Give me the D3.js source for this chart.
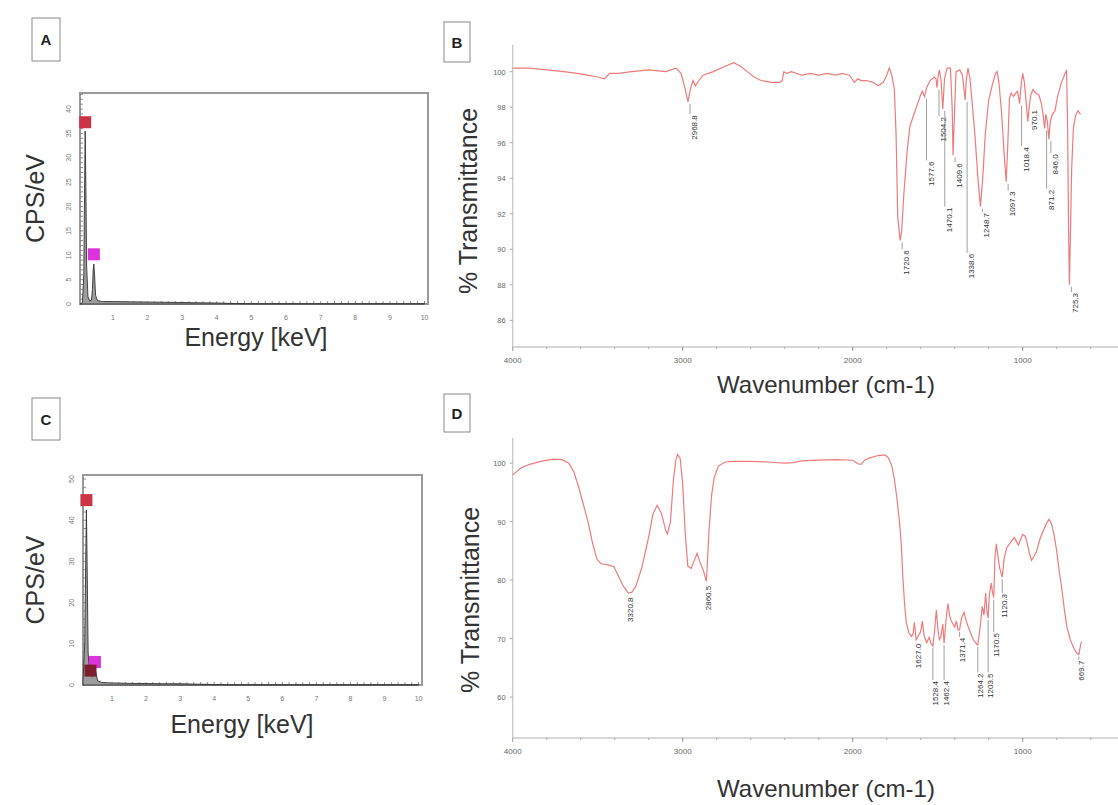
<!DOCTYPE html>
<html>
<head>
<meta charset="utf-8">
<script src="https://cdn.jsdelivr.net/npm/d3@7/dist/d3.min.js"></script>
<style>
  body { margin: 0; background: #fff; }
  svg { display: block; font-family: "Liberation Sans", Arial, sans-serif; }
</style>
</head>
<body>
<script>
// ---- EDS spectrum A ----
const edsA_keV = [0.05, 0.12, 0.16, 0.18, 0.2, 0.22, 0.24, 0.28, 0.33, 0.38, 0.41, 0.43, 0.45, 0.47, 0.5, 0.55, 0.7, 1.0, 1.5, 2.0, 2.5, 3.0, 3.5, 4.0, 4.5, 5, 6, 7, 8, 9, 10];
const edsA_cps = [0, 0.3, 6, 22, 35.5, 24, 8, 1.5, 0.6, 0.8, 3.0, 7.0, 8.2, 6.0, 1.8, 0.7, 0.5, 0.5, 0.45, 0.4, 0.35, 0.3, 0.25, 0.2, 0.1, 0.05, 0.05, 0.05, 0.05, 0.05, 0.05];
const edsA_markKeV = [0.2, 0.45];
const edsA_markCps = [37.3, 10.2];
const edsA_markCol = ["#cc3344", "#dd33dd"];
const edsA_yTicks = [0, 5, 10, 15, 20, 25, 30, 35, 40];

// ---- EDS spectrum C ----
const edsC_keV = [0.15, 0.2, 0.23, 0.25, 0.27, 0.3, 0.34, 0.36, 0.38, 0.42, 0.47, 0.5, 0.53, 0.58, 0.7, 1, 1.5, 2, 2.5, 3, 3.5, 3.8, 4.5, 6, 8, 10];
const edsC_cps = [1, 10, 30, 42.5, 30, 8, 2.5, 2.8, 2.3, 2.0, 3.2, 3.8, 3.0, 1.0, 0.6, 0.5, 0.4, 0.35, 0.3, 0.3, 0.2, 0.15, 0.05, 0.05, 0.05, 0.05];
const edsC_markKeV = [0.25, 0.5, 0.37];
const edsC_markCps = [44.9, 5.6, 3.5];
const edsC_markCol = ["#cc3344", "#dd33dd", "#7a1f2b"];
const edsC_yTicks = [0, 10, 20, 30, 40, 50];

const edsXTicks = [1, 2, 3, 4, 5, 6, 7, 8, 9, 10];

// ---- FTIR spectrum B ----
const irB_wn = [4000, 3900, 3800, 3700, 3620, 3560, 3500, 3460, 3430, 3380, 3300, 3200, 3100, 3040, 3010, 2990, 2968.8, 2955, 2940, 2925, 2905, 2880, 2820, 2750, 2700, 2660, 2620, 2580, 2540, 2480, 2430, 2415, 2405, 2390, 2360, 2300, 2250, 2200, 2150, 2100, 2060, 2020, 1990, 1970, 1950, 1920, 1880, 1850, 1820, 1800, 1785, 1770, 1755, 1745, 1735, 1720.6, 1712, 1700, 1680, 1664, 1640, 1625, 1600, 1590, 1577.6, 1565, 1545, 1520, 1510, 1504.2, 1498, 1490, 1480, 1470.1, 1460, 1445, 1425, 1415, 1409.6, 1402, 1392, 1370, 1355, 1345, 1338.6, 1332, 1322, 1310, 1295, 1280, 1265, 1248.7, 1235, 1220, 1200, 1180, 1160, 1150, 1140, 1125, 1110, 1097.3, 1088, 1078, 1068, 1055, 1040, 1030, 1018.4, 1010, 1000, 990, 980, 970.1, 962, 952, 940, 925, 905, 890, 880, 871.2, 864, 855, 846.0, 838, 825, 810, 795, 775, 755, 742, 736, 730, 725.3, 720, 712, 702, 690, 675, 660];
const irB_T = [100.2, 100.2, 100.1, 100.0, 99.9, 99.8, 99.7, 99.6, 99.9, 99.9, 100.0, 100.1, 100.0, 100.2, 99.9, 99.2, 98.3, 99.0, 99.5, 99.2, 99.5, 99.8, 100.0, 100.3, 100.5, 100.3, 100.0, 99.7, 99.5, 99.4, 99.4, 99.5, 100.0, 99.9, 100.0, 99.8, 99.9, 99.8, 99.9, 99.8, 99.9, 99.8, 99.4, 99.6, 99.5, 99.5, 99.4, 99.2, 99.4, 99.8, 100.2, 99.8, 99.0, 96.5, 91.8, 90.5, 91.0, 93.0, 95.5, 96.9, 97.6, 98.0, 98.7, 98.9, 98.6, 99.1, 99.5, 99.7, 99.6, 99.1, 99.7, 100.1, 99.5, 97.9, 99.6, 100.2, 100.2, 98.0, 95.3, 97.5, 100.0, 100.1, 99.8, 99.0, 98.4, 99.5, 100.2, 99.6, 98.0, 96.3, 94.2, 92.4, 94.0, 96.5, 98.4, 99.2, 99.9, 100.0, 99.4, 97.8, 95.5, 93.8, 95.8, 98.5, 98.8, 98.6, 98.8, 98.9, 98.2, 99.2, 99.9, 99.4, 98.3, 97.2, 98.0, 98.7, 99.0, 98.8, 98.7, 98.2, 97.6, 96.8, 97.6, 97.2, 96.2, 97.2, 97.6, 97.8, 98.6, 99.3, 99.8, 100.1, 97.0, 91.0, 88.0, 90.5, 94.5, 96.8, 97.5, 97.8, 97.6];
const irB_peaks = [2968.8, 1720.6, 1577.6, 1504.2, 1470.1, 1409.6, 1338.6, 1248.7, 1097.3, 1018.4, 970.1, 871.2, 846.0, 725.3];
const irB_peakText = ["2968.8", "1720.6", "1577.6", "1504.2", "1470.1", "1409.6", "1338.6", "1248.7", "1097.3", "1018.4", "970.1", "871.2", "846.0", "725.3"];
// level (in %T) where each peak label starts
const irB_labelLevel = [97.6, 90.0, 95.0, 97.5, 92.4, 94.9, 89.8, 92.1, 93.3, 95.8, 97.9, 93.4, 95.4, 87.6];
const irB_yTicks = [86, 88, 90, 92, 94, 96, 98, 100];

// ---- FTIR spectrum D ----
const irD_wn = [4000, 3950, 3900, 3835, 3760, 3710, 3670, 3640, 3610, 3580, 3555, 3530, 3505, 3480, 3440, 3405, 3380, 3350, 3320.8, 3300, 3275, 3240, 3200, 3175, 3150, 3125, 3100, 3090, 3072, 3055, 3040, 3030, 3015, 3000, 2985, 2970, 2950, 2930, 2915, 2900, 2880, 2860.5, 2845, 2830, 2815, 2790, 2750, 2700, 2600, 2500, 2400, 2350, 2300, 2200, 2100, 2000, 1970, 1950, 1930, 1900, 1850, 1810, 1790, 1770, 1755, 1740, 1725, 1715, 1705, 1695, 1685, 1670, 1655, 1645, 1637, 1627.0, 1615, 1600, 1590, 1580, 1565, 1550, 1540, 1528.4, 1518, 1508, 1498, 1490, 1482, 1470, 1462.4, 1450, 1440, 1430, 1420, 1400, 1390, 1380, 1371.4, 1360, 1345, 1330, 1310, 1290, 1275, 1264.2, 1250, 1238, 1228, 1218, 1210, 1203.5, 1196, 1185, 1178, 1170.5, 1163, 1155, 1145, 1135, 1120.3, 1110, 1095, 1070, 1050, 1035, 1025, 1000, 985, 975, 960, 948, 935, 920, 900, 880, 860, 845, 830, 815, 800, 785, 770, 755, 740, 720, 700, 685, 669.7, 662, 655];
const irD_T = [98.0, 99.2, 99.8, 100.3, 100.7, 100.6, 100.0, 98.5, 95.7, 92.5, 89.7, 86.3, 83.6, 82.8, 82.6, 82.3, 80.8, 79.0, 77.8, 77.9, 79.0, 82.2, 87.4, 91.3, 92.8, 91.4, 88.5, 87.9, 90.0, 97.0, 100.6, 101.5, 100.8, 96.5, 88.0, 82.4, 82.0, 83.5, 84.6, 83.2, 81.8, 79.8, 88.5, 94.5, 97.5, 99.5, 100.2, 100.3, 100.3, 100.2, 100.0, 100.1, 100.4, 100.5, 100.6, 100.5, 99.9, 99.8, 100.5, 100.9, 101.3, 101.4, 100.9, 99.5, 97.3, 94.0, 90.0, 86.5, 80.5, 76.0, 72.8, 71.0, 70.4, 70.8, 72.8, 69.8, 70.4, 71.2, 73.0, 70.5, 69.3, 70.2, 69.2, 68.7, 71.5, 74.9, 71.5, 69.8, 70.2, 72.5, 69.2, 73.5, 76.0, 74.0, 73.0, 72.0, 73.0, 71.5, 71.5, 73.5, 74.5, 72.8, 71.2, 69.8, 69.2, 68.9, 72.0, 75.5, 74.0, 77.8, 74.5, 73.5, 77.5, 79.5, 78.0, 77.0, 84.0, 86.2, 84.0, 82.0, 80.5, 83.5, 85.5, 86.5, 87.3, 86.5, 86.0, 87.8, 87.5, 86.5, 84.5, 83.4, 84.0, 84.8, 86.9, 88.4, 89.7, 90.4, 89.6, 87.6, 85.0, 81.5, 78.5, 75.0, 72.0, 69.8, 68.4, 67.6, 67.3, 68.5, 69.5];
const irD_peaks = [3320.8, 2860.5, 1627.0, 1528.4, 1462.4, 1371.4, 1264.2, 1203.5, 1170.5, 1120.3, 669.7];
const irD_peakText = ["3320.8", "2860.5", "1627.0", "1528.4", "1462.4", "1371.4", "1264.2", "1203.5", "1170.5", "1120.3", "669.7"];
const irD_labelLevel = [77.2, 79.2, 69.3, 62.9, 62.9, 70.3, 64.2, 64.2, 71.1, 77.8, 66.4];
const irD_yTicks = [60, 70, 80, 90, 100];

const irXTicks = [4000, 3000, 2000, 1000];

const svg = d3.select("body").append("svg")
  .attr("width", 1118)
  .attr("height", 805);

// panel letter in a small box
function panelTag(letter, x, y, w, h) {
  svg.append("rect")
    .attr("x", x).attr("y", y).attr("width", w).attr("height", h)
    .attr("fill", "#fff").attr("stroke", "#8a8a8a").attr("stroke-width", 1);
  svg.append("text")
    .attr("x", x + w / 2).attr("y", y + h / 2 + 5.5)
    .attr("text-anchor", "middle")
    .attr("font-size", 15).attr("font-weight", "bold")
    .attr("fill", "#222")
    .text(letter);
}

function drawEds(o) {
  const x = d3.scaleLinear().domain(o.xDomain).range([o.left, o.right]);
  const y = d3.scaleLinear().domain(o.yDomain).range([o.bottom, o.top]);
  const g = svg.append("g");

  g.append("rect")
    .attr("x", o.left).attr("y", o.top)
    .attr("width", o.right - o.left).attr("height", o.bottom - o.top)
    .attr("fill", "#fff").attr("stroke", "#9a9a9a").attr("stroke-width", 2);

  // minor ticks inside the frame
  g.selectAll(".xm").data(d3.range(0.2, 10.05, 0.2)).enter().append("line")
    .attr("x1", d => x(d)).attr("x2", d => x(d))
    .attr("y1", o.bottom).attr("y2", o.bottom - 3)
    .attr("stroke", "#777").attr("stroke-width", 0.8);
  g.selectAll(".ym").data(d3.range(0, o.yDomain[1], o.yMinor)).enter().append("line")
    .attr("x1", o.left).attr("x2", o.left + 3)
    .attr("y1", d => y(d)).attr("y2", d => y(d))
    .attr("stroke", "#777").attr("stroke-width", 0.8);

  g.selectAll(".xl").data(edsXTicks).enter().append("text")
    .attr("x", d => x(d)).attr("y", o.bottom + 16)
    .attr("text-anchor", "middle").attr("font-size", 7).attr("fill", "#777")
    .text(d => d);
  g.selectAll(".yl").data(o.yTicks).enter().append("text")
    .attr("transform", d => `translate(${o.left - 9},${y(d)}) rotate(-90)`)
    .attr("text-anchor", "middle").attr("font-size", 7).attr("fill", "#777")
    .text(d => d);

  const pts = o.keV.map((k, i) => [k, o.cps[i]]);
  g.append("path").datum(pts)
    .attr("d", d3.area().x(d => x(d[0])).y0(y(0)).y1(d => y(d[1])))
    .attr("fill", "#9c9c9c").attr("stroke", "#333").attr("stroke-width", 0.9);

  o.markKeV.forEach((k, i) => {
    g.append("rect")
      .attr("x", x(k) - 6).attr("y", y(o.markCps[i]) - 6)
      .attr("width", 12).attr("height", 12)
      .attr("fill", o.markCol[i]);
  });

  g.append("text")
    .attr("transform", `translate(${o.yTitleX},${(o.top + o.bottom) / 2}) rotate(-90)`)
    .attr("text-anchor", "middle").attr("font-size", 25).attr("fill", "#333")
    .text("CPS/eV");
  g.append("text")
    .attr("x", o.xTitleX).attr("y", o.xTitleY)
    .attr("text-anchor", "middle").attr("font-size", 25).attr("fill", "#333")
    .text("Energy [keV]");
}

function drawIr(o) {
  const x = d3.scaleLinear().domain([4000, 400]).range([512.7, 1124.7]);
  const y = d3.scaleLinear().domain(o.yDomain).range([o.bottom, o.top]);
  const g = svg.append("g");

  g.append("line").attr("x1", x(4000)).attr("x2", x(4000))
    .attr("y1", o.top).attr("y2", o.bottom)
    .attr("stroke", "#c4c4c4").attr("stroke-width", 1.2);
  g.append("line").attr("x1", x(4000)).attr("x2", 1118)
    .attr("y1", o.bottom).attr("y2", o.bottom)
    .attr("stroke", "#b0b0b0").attr("stroke-width", 1.2);

  g.selectAll(".xm").data(d3.range(3800, 500, -200)).enter().append("line")
    .attr("x1", d => x(d)).attr("x2", d => x(d))
    .attr("y1", o.bottom).attr("y2", o.bottom + 2)
    .attr("stroke", "#aaa");
  g.selectAll(".xt").data(irXTicks).enter().append("line")
    .attr("x1", d => x(d)).attr("x2", d => x(d))
    .attr("y1", o.bottom).attr("y2", o.bottom + 4)
    .attr("stroke", "#999");
  g.selectAll(".xl").data(irXTicks).enter().append("text")
    .attr("x", d => x(d)).attr("y", o.bottom + 16)
    .attr("text-anchor", "middle").attr("font-size", 8).attr("fill", "#666")
    .text(d => d);

  g.selectAll(".yt").data(o.yTicks).enter().append("line")
    .attr("x1", x(4000) - 3).attr("x2", x(4000))
    .attr("y1", d => y(d)).attr("y2", d => y(d))
    .attr("stroke", "#aaa");
  g.selectAll(".yl").data(o.yTicks).enter().append("text")
    .attr("x", x(4000) - 7).attr("y", d => y(d) + 3)
    .attr("text-anchor", "end").attr("font-size", 7.5).attr("fill", "#666")
    .text(d => d);

  const pts = o.wn.map((w, i) => [w, o.T[i]]);
  g.append("path").datum(pts)
    .attr("d", d3.line().x(d => x(d[0])).y(d => y(d[1])))
    .attr("fill", "none").attr("stroke", "#ef7b7b").attr("stroke-width", 1.2);

  o.peaks.forEach((p, i) => {
    const t = o.T[o.wn.indexOf(p)];
    const px = x(p);
    const yTop = y(o.labelLevel[i]);
    if (yTop - y(t) > 4) {
      g.append("line")
        .attr("x1", px + o.leadDx).attr("x2", px + o.leadDx)
        .attr("y1", y(t) + 2).attr("y2", yTop)
        .attr("stroke", "#777").attr("stroke-width", 0.7);
    }
    g.append("text")
      .attr("transform", `translate(${px + o.labelDx},${yTop + 1}) rotate(-90)`)
      .attr("text-anchor", "end").attr("font-size", 8).attr("fill", "#333")
      .text(o.peakText[i]);
  });

  g.append("text")
    .attr("transform", `translate(${o.yTitleX},${o.yTitleY}) rotate(-90)`)
    .attr("text-anchor", "middle").attr("font-size", 25).attr("fill", "#333")
    .text("% Transmittance");
  g.append("text")
    .attr("x", 826).attr("y", o.xTitleY)
    .attr("text-anchor", "middle").attr("font-size", 24).attr("fill", "#333")
    .text("Wavenumber (cm-1)");
}

drawEds({
  keV: edsA_keV, cps: edsA_cps, markKeV: edsA_markKeV, markCps: edsA_markCps, markCol: edsA_markCol,
  yTicks: edsA_yTicks, yMinor: 1,
  xDomain: [0.05, 10.1], yDomain: [0, 43.3],
  left: 80, right: 428, top: 93, bottom: 304,
  yTitleX: 44, xTitleX: 256, xTitleY: 346
});
drawEds({
  keV: edsC_keV, cps: edsC_cps, markKeV: edsC_markKeV, markCps: edsC_markCps, markCol: edsC_markCol,
  yTicks: edsC_yTicks, yMinor: 2,
  xDomain: [0.15, 10.1], yDomain: [0, 51],
  left: 83, right: 422, top: 475, bottom: 685,
  yTitleX: 44, xTitleX: 242, xTitleY: 733
});
drawIr({
  wn: irB_wn, T: irB_T, peaks: irB_peaks, peakText: irB_peakText, labelLevel: irB_labelLevel,
  yTicks: irB_yTicks, yDomain: [84.5, 101.5], top: 45, bottom: 347,
  labelDx: 9, leadDx: 2,
  yTitleX: 477, yTitleY: 201, xTitleY: 393
});
drawIr({
  wn: irD_wn, T: irD_T, peaks: irD_peaks, peakText: irD_peakText, labelLevel: irD_labelLevel,
  yTicks: irD_yTicks, yDomain: [53, 104.3], top: 438, bottom: 738,
  labelDx: 5, leadDx: 0,
  yTitleX: 479, yTitleY: 600, xTitleY: 797
});

panelTag("A", 32, 18, 28, 43);
panelTag("B", 444, 22, 26, 40);
panelTag("C", 32, 398, 28, 42);
panelTag("D", 444, 394, 26, 38);
</script>
</body>
</html>
